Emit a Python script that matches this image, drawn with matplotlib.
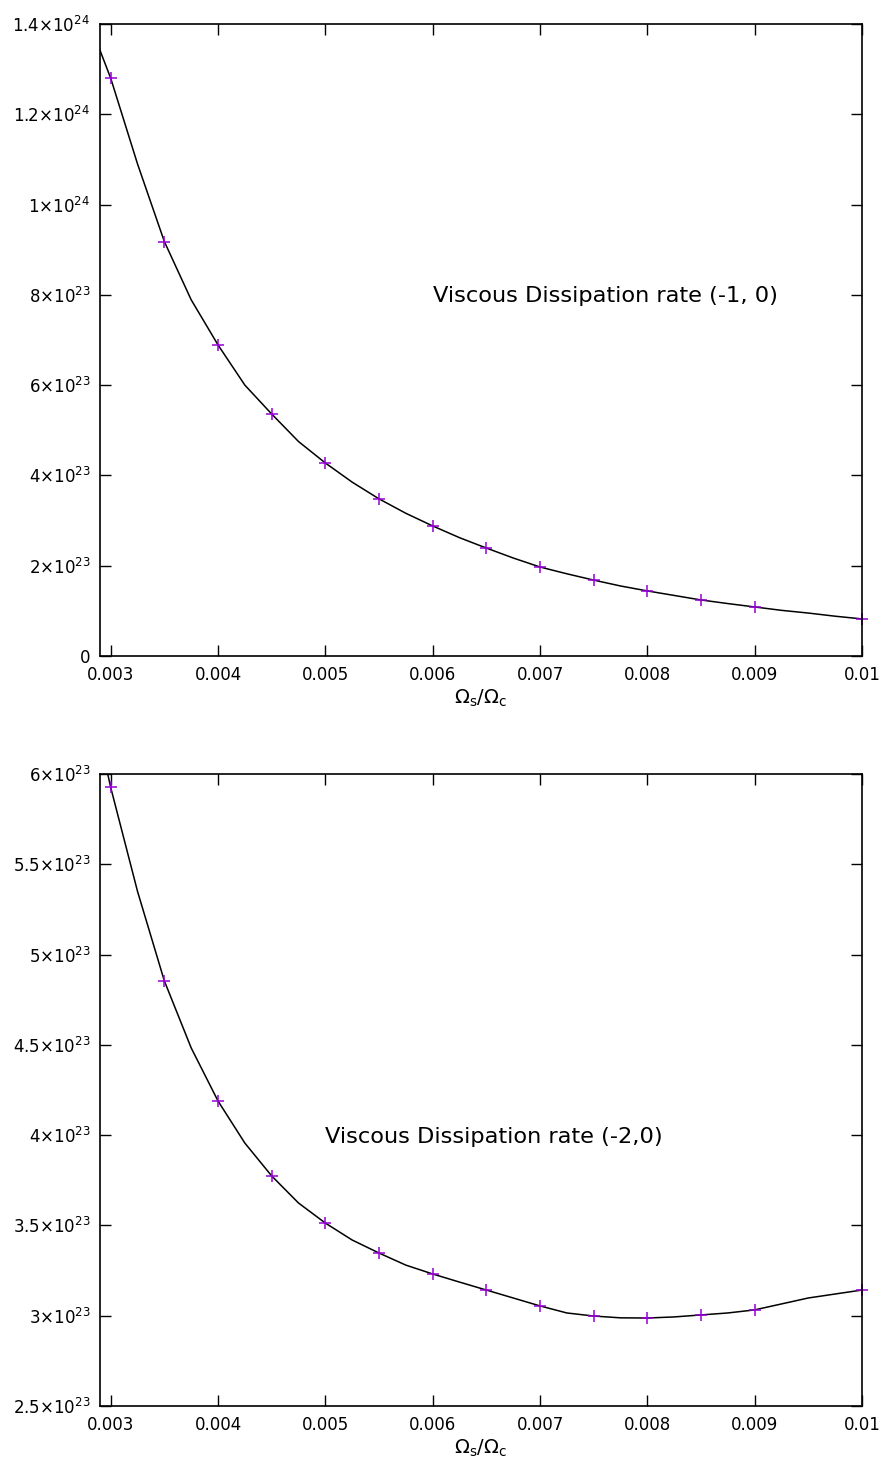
import matplotlib
matplotlib.use("Agg")
import matplotlib.pyplot as plt

# sampled points (markers), every 0.0005
x_pts = [0.003, 0.0035, 0.004, 0.0045, 0.005, 0.0055, 0.006, 0.0065,
         0.007, 0.0075, 0.008, 0.0085, 0.009, 0.01]
top_pts = [12.80, 9.18, 6.89, 5.36, 4.275, 3.48, 2.88, 2.39,
           1.97, 1.68, 1.44, 1.24, 1.085, 0.82]          # x 1e23
bot_pts = [5.926, 4.854, 4.189, 3.774, 3.513, 3.347, 3.231, 3.142,
           3.054, 2.998, 2.987, 3.004, 3.032, 3.142]     # x 1e23

# finer curve, every 0.00025
x_line = [0.00275, 0.003, 0.00325, 0.0035, 0.00375, 0.004, 0.00425, 0.0045,
          0.00475, 0.005, 0.00525, 0.0055, 0.00575, 0.006, 0.00625, 0.0065,
          0.00675, 0.007, 0.00725, 0.0075, 0.00775, 0.008, 0.00825, 0.0085,
          0.00875, 0.009, 0.00925, 0.0095, 0.00975, 0.01]
top_line = [14.35, 12.80, 10.90, 9.18, 7.89, 6.89, 6.00, 5.36,
            4.75, 4.275, 3.85, 3.48, 3.16, 2.88, 2.62, 2.39,
            2.17, 1.97, 1.82, 1.68, 1.55, 1.44, 1.34, 1.24,
            1.16, 1.085, 1.01, 0.95, 0.88, 0.82]
bot_line = [6.60, 5.926, 5.35, 4.854, 4.483, 4.189, 3.956, 3.774,
            3.624, 3.513, 3.419, 3.347, 3.28, 3.231, 3.186, 3.142,
            3.098, 3.054, 3.015, 2.998, 2.988, 2.987, 2.993, 3.004,
            3.015, 3.032, 3.065, 3.098, 3.12, 3.142]

x_ticks = [0.003, 0.004, 0.005, 0.006, 0.007, 0.008, 0.009, 0.01]
x_labels = ["0.003", "0.004", "0.005", "0.006", "0.007", "0.008", "0.009", "0.01"]

top_yticks = [0, 2, 4, 6, 8, 10, 12, 14]
top_ylabels = ["0", r"$2{\times}10^{23}$", r"$4{\times}10^{23}$", r"$6{\times}10^{23}$",
               r"$8{\times}10^{23}$", r"$1{\times}10^{24}$", r"$1.2{\times}10^{24}$",
               r"$1.4{\times}10^{24}$"]
bot_yticks = [2.5, 3.0, 3.5, 4.0, 4.5, 5.0, 5.5, 6.0]
bot_ylabels = [r"$2.5{\times}10^{23}$", r"$3{\times}10^{23}$", r"$3.5{\times}10^{23}$",
               r"$4{\times}10^{23}$", r"$4.5{\times}10^{23}$", r"$5{\times}10^{23}$",
               r"$5.5{\times}10^{23}$", r"$6{\times}10^{23}$"]

plt.rcParams['mathtext.fontset'] = 'dejavusans'

fig = plt.figure(figsize=(8.87, 14.84), dpi=100)
ax1 = fig.add_axes([0.1127, 0.5580, 0.8591, 0.4258])
ax2 = fig.add_axes([0.1127, 0.0526, 0.8591, 0.4258])

panels = [
    (ax1, top_line, top_pts, top_yticks, top_ylabels, (0, 14),
     "Viscous Dissipation rate (-1, 0)", (0.00600, 7.97)),
    (ax2, bot_line, bot_pts, bot_yticks, bot_ylabels, (2.5, 6.0),
     "Viscous Dissipation rate (-2,0)", (0.00500, 3.99)),
]

for ax, yl, yp, yt, ytl, ylim, label, pos in panels:
    ax.plot(x_line, yl, color='black', linewidth=1.1)
    ax.plot(x_pts, yp, linestyle='none', marker='+', markersize=9,
            markeredgewidth=1.1, color='#9400d3', clip_on=False)
    ax.set_xlim(0.0029, 0.01)
    ax.set_ylim(*ylim)
    ax.set_xticks(x_ticks)
    ax.set_xticklabels(x_labels)
    ax.set_yticks(yt)
    ax.set_yticklabels(ytl)
    ax.tick_params(direction='in', length=8, width=1.0, top=True, right=True,
                   labelsize=12, pad=7)
    for s in ax.spines.values():
        s.set_linewidth(1.2)
    ax.set_xlabel(r"$\Omega_\mathrm{s}/\Omega_\mathrm{c}$", fontsize=14, labelpad=3)
    ax.text(pos[0], pos[1], label, fontsize=16.2, ha='left', va='center')

fig.savefig("out.png", dpi=100)
